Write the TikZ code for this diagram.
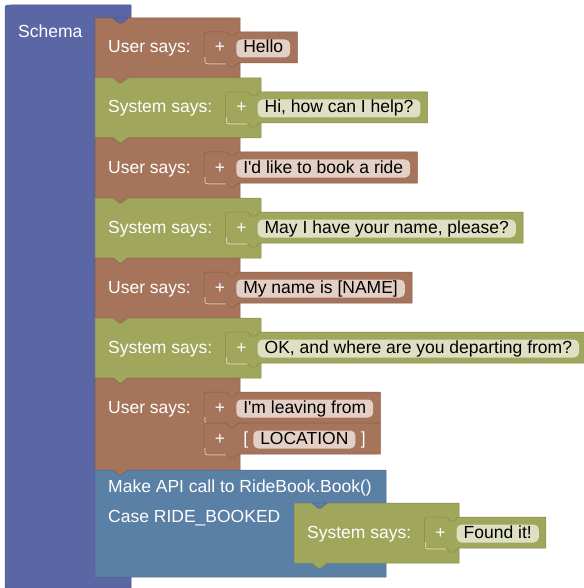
\documentclass[tikz,border=0pt]{standalone}
\usepackage{fontspec}
\setmainfont{Liberation Sans}
\usetikzlibrary{calc,backgrounds}
\definecolor{schema}{HTML}{5B67A5}
\definecolor{schemadk}{HTML}{4A5590}
\definecolor{user}{HTML}{A5745B}
\definecolor{userdk}{HTML}{8A5C46}
\definecolor{userlt}{HTML}{E4CFC5}
\definecolor{sys}{HTML}{A0A65B}
\definecolor{sysdk}{HTML}{858A46}
\definecolor{syslt}{HTML}{DEE0C4}
\definecolor{api}{HTML}{5B80A5}
\definecolor{apidk}{HTML}{4A6A8C}

% statement block with notch on top and tab below
\newcommand{\blockbody}[5]{%
  \filldraw[#5] (#1,#2) -- (#1+18,#2) -- ++(6,5) -- ++(3,0) -- ++(6,-5) -- (#3,#2)
    -- (#3,#4) -- (#1+33,#4) -- ++(-6,5) -- ++(-3,0) -- ++(-6,-5) -- (#1,#4) -- cycle;
}
% the "+" piece sitting in a socket
\newcommand{\plusbody}[5]{%
  \filldraw[#5] let \p1=(#1), \p2=(#4) in
    (\x1+5pt,#2) -- (\x1+22pt,#2) -- ++(4,4) -- ++(4,0) -- ++(4,-4) -- (\x2,#2)
    -- (\x2,#3) -- (\x1+34pt,#3) -- ++(-4,4) -- ++(-4,0) -- ++(-4,-4) -- (\x1+5pt,#3)
    .. controls (\x1,#3) .. (\x1,#3-5) -- (\x1,#2+5) .. controls (\x1,#2) .. (\x1+5pt,#2) -- cycle;
  \draw[socketlit] let \p1=(#1) in
    (\x1+0.8pt,#3-6) .. controls (\x1+0.8pt,#3+0.8) .. (\x1+6pt,#3+0.8) -- (\x1+22pt,#3+0.8);
}
% one "... says:" block with a single text
\newcommand{\saysrow}[7]{%
  \node[lbl] (#1lbl) at (#2+13,#3+35) {#6};
  \coordinate (#1in) at ($(#1lbl.base east)+(13,0)$);
  \node[plusmark] at ($(#1in)+(16,0)$) {+};
  \node[#5fld] (#1fld) at ($(#1in)+(32,0)$) {#7};
  \coordinate (#1r) at ($(#1fld.east)+(7,0)$);
  \begin{scope}[on background layer]
    \blockbody{#2}{#3}{#4}{#3+60}{#5}
    \plusbody{#1in}{#3+14}{#3+45}{#1r}{#5}
  \end{scope}
}

\begin{document}
\begin{tikzpicture}[
  x=1pt, y=-1pt,
  font=\fontsize{17.5}{20}\selectfont,
  lbl/.style={anchor=base west, text=white, inner sep=0pt},
  plusmark/.style={anchor=base, text=white, inner sep=0pt},
  fld/.style={anchor=base west, rounded corners=5pt, inner xsep=7pt, inner ysep=1.5pt,
    text height=12pt, text depth=3pt, text=black},
  usrfld/.style={fld, fill=userlt},
  sysfld/.style={fld, fill=syslt},
  usr/.style={fill=user, draw=userdk, line width=0.5pt, line join=round},
  sys/.style={fill=sys, draw=sysdk, line width=0.5pt, line join=round},
  apiblk/.style={fill=api, draw=apidk, line width=0.5pt, line join=round},
  schm/.style={fill=schema, draw=schemadk, line width=0.5pt, line join=round},
  socketlit/.style={draw=white, opacity=.55, line width=1pt},
]
\useasboundingbox (0,0) rectangle (583,588);

% schema frame
\node[lbl] (schemalbl) at (18,38) {Schema};
\begin{scope}[on background layer]
  \filldraw[schm] (5,588) -- (5,11) .. controls (5,5) .. (11,5) -- (131,5) -- (131,18)
    -- (95,18) -- (95,577) -- (131,577) -- (131,588) -- cycle;
\end{scope}

\saysrow{u1}{95}{18}{240}{usr}{User says:}{Hello}
\saysrow{s1}{95}{78}{261}{sys}{System says:}{Hi, how can I help?}
\saysrow{u2}{95}{138}{240}{usr}{User says:}{I\textquotesingle d like to book a ride}
\saysrow{s2}{95}{198}{261}{sys}{System says:}{May I have your name, please?}
\saysrow{u3}{95}{258}{240}{usr}{User says:}{My name is [NAME]}
\saysrow{s3}{95}{318}{261}{sys}{System says:}{OK, and where are you departing from?}

% user block with two pieces
\node[lbl] (u4lbl) at (108,413) {User says:};
\coordinate (u4in) at ($(u4lbl.base east)+(13,0)$);
\node[plusmark] at ($(u4in)+(16,0)$) {+};
\node[usrfld] (u4fld) at ($(u4in)+(32,0)$) {I\textquotesingle m leaving from};
\coordinate (u4r) at ($(u4fld.east)+(7,0)$);
\coordinate (u4in2) at ($(u4in)+(0,31)$);
\node[plusmark] at ($(u4in2)+(16,0)$) {+};
\node[lbl] (lbrk) at ($(u4in2)+(39,0)$) {[};
\node[usrfld] (locfld) at ($(u4in2)+(49,0)$) {LOCATION};
\node[lbl] (rbrk) at ($(locfld.base east)+(5,0)$) {]};
\begin{scope}[on background layer]
  \blockbody{95}{378}{240}{470}{usr}
  \plusbody{u4in}{392}{423}{u4r}{usr}
  \plusbody{u4in2}{423}{454}{u4r}{usr}
\end{scope}

% API call block
\node[lbl] (apilbl) at (108,492) {Make API call to RideBook.Book()};
\node[lbl] (caselbl) at (108,522) {Case RIDE\_BOOKED};
\begin{scope}[on background layer]
  \filldraw[apiblk] (95,470) -- (113,470) -- ++(6,5) -- ++(3,0) -- ++(6,-5) -- (386,470)
    -- (386,503) -- (294,503) -- (294,562) -- (386,562) -- (386,577) -- (101,577)
    .. controls (95,577) .. (95,571) -- cycle;
\end{scope}
\saysrow{s4}{294}{503}{459}{sys}{System says:}{Found it!}

% tabs of the schema and the case socket
\begin{scope}[on background layer]
  \filldraw[schm] (113,18) -- ++(6,5) -- ++(3,0) -- ++(6,-5) -- cycle;
  \filldraw[apiblk] (312,503) -- ++(6,5) -- ++(3,0) -- ++(6,-5) -- cycle;
\end{scope}
\end{tikzpicture}
\end{document}
